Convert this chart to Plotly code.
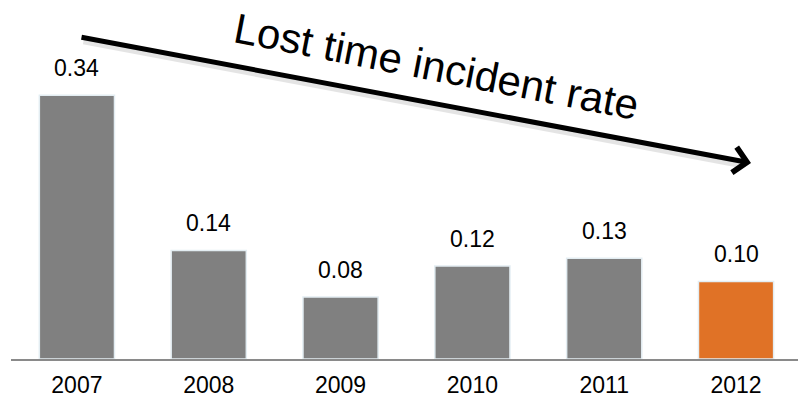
import plotly.graph_objects as go

# Lost time incident rate by year
years = ["2007", "2008", "2009", "2010", "2011", "2012"]
rates = [0.34, 0.14, 0.08, 0.12, 0.13, 0.10]
value_labels = ["0.34", "0.14", "0.08", "0.12", "0.13", "0.10"]
bar_colors = ["#808080", "#808080", "#808080", "#808080", "#808080", "#E07226"]

FONT = "Arial, 'Liberation Sans', sans-serif"
W, H = 798, 400
ML, MR, MT, MB = 11, 0, 0, 41


def px_to_paper(px, py):
    return (px - ML) / (W - ML - MR), (H - MB - py) / (H - MT - MB)


positions = list(range(len(years)))

fig = go.Figure(
    go.Bar(
        x=positions,
        y=rates,
        width=0.57,
        marker=dict(color=bar_colors, line=dict(color="#e3edf2", width=1.5)),
        hoverinfo="skip",
    )
)

# value labels above each bar
for i, v, lbl in zip(positions, rates, value_labels):
    fig.add_annotation(
        x=i, y=v, xref="x", yref="y", text=lbl, showarrow=False,
        yanchor="bottom", yshift=12, font=dict(family=FONT, size=23, color="#000000"),
    )

# trend arrow: faint shadow line, then the arrow itself
tail = (80, 37)
tip = (751, 163)
sx, sy = px_to_paper(tip[0] - 10, tip[1] - 2 + 4)
fig.add_annotation(
    x=sx, y=sy, xref="paper", yref="paper", text="",
    showarrow=True, arrowhead=0, arrowwidth=6, arrowcolor="rgba(0,0,0,0.10)",
    axref="pixel", ayref="pixel", ax=(tail[0] + 2) - (tip[0] - 10), ay=(tail[1] + 4) - (tip[1] + 2),
    standoff=0,
)
tx, ty = px_to_paper(*tip)
fig.add_annotation(
    x=tx, y=ty, xref="paper", yref="paper", text="",
    showarrow=True, arrowhead=4, arrowsize=1.0, arrowwidth=5, arrowcolor="#000000",
    axref="pixel", ayref="pixel", ax=tail[0] - tip[0], ay=tail[1] - tip[1],
    standoff=0,
)

# rotated caption along the arrow
cx, cy = px_to_paper(436, 67)
fig.add_annotation(
    x=cx, y=cy, xref="paper", yref="paper", text="Lost time incident rate",
    showarrow=False, textangle=11, xanchor="center", yanchor="middle",
    font=dict(family=FONT, size=42, color="#000000"),
)

fig.update_layout(
    width=W, height=H,
    margin=dict(l=ML, r=MR, t=MT, b=MB),
    paper_bgcolor="#ffffff", plot_bgcolor="#ffffff",
    showlegend=False,
    xaxis=dict(
        type="linear", range=[-0.5, 5.47], showgrid=False, zeroline=False,
        showline=True, linecolor="#8a8a8a", linewidth=2,
        tickmode="array", tickvals=positions, ticktext=years,
        ticks="", ticklabelstandoff=4,
        tickfont=dict(family=FONT, size=23, color="#000000"),
        fixedrange=True,
    ),
    yaxis=dict(
        range=[0, 0.463], visible=False, showgrid=False, zeroline=False,
        fixedrange=True,
    ),
)

fig.write_html("out.html", config={"displayModeBar": False})
